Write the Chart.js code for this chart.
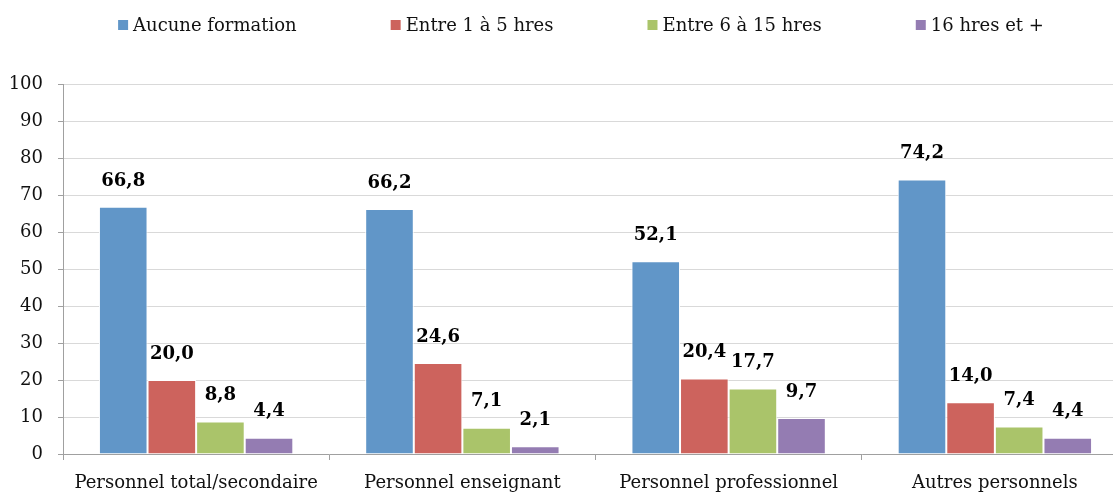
<!DOCTYPE html>
<html>
<head>
<meta charset="utf-8">
<script src="https://cdn.jsdelivr.net/npm/chart.js@4"></script>
<style>
html,body{margin:0;padding:0;background:#fff;overflow:hidden;}
#wrap{width:1160px;height:492px;position:relative;}
</style>
</head>
<body>
<div id="wrap"><canvas id="c"></canvas></div>
<script>
const categories = ["Personnel total/secondaire", "Personnel enseignant", "Personnel professionnel", "Autres personnels"];
const seriesNames = ["Aucune formation", "Entre 1 à 5 hres", "Entre 6 à 15 hres", "16 hres et +"];
const aucune = [66.8, 66.2, 52.1, 74.2];
const entre1a5 = [20.0, 24.6, 20.4, 14.0];
const entre6a15 = [8.8, 7.1, 17.7, 7.4];
const seize = [4.4, 2.1, 9.7, 4.4];
const yTicks = [0, 10, 20, 30, 40, 50, 60, 70, 80, 90, 100];

const colors = ["#6196C8", "#CD635D", "#AAC46A", "#947CB2"];
const FONT = "'DejaVu Serif', serif";

const legendPlugin = {
  id: 'customLegend',
  afterDraw(chart) {
    const ctx = chart.ctx;
    ctx.save();
    ctx.font = "18px " + FONT;
    ctx.textBaseline = 'middle';
    const box = 10, gapBT = 5, gap = 94, cy = 26;
    const items = chart.data.datasets.map(d => ({ label: d.label, color: d.backgroundColor, w: ctx.measureText(d.label).width }));
    const total = items.reduce((s, it) => s + box + gapBT + it.w, 0) + gap * (items.length - 1);
    let x = 581 - total / 2;
    items.forEach(it => {
      ctx.fillStyle = it.color;
      ctx.fillRect(x, cy - 6, box, box);
      ctx.fillStyle = '#111';
      ctx.textAlign = 'left';
      ctx.fillText(it.label, x + box + gapBT, cy);
      x += box + gapBT + it.w + gap;
    });
    ctx.restore();
  }
};

const labelPlugin = {
  id: 'valueLabels',
  afterDatasetsDraw(chart) {
    const ctx = chart.ctx;
    ctx.save();
    ctx.font = "bold 18px " + FONT;
    ctx.fillStyle = '#000';
    ctx.textAlign = 'center';
    ctx.textBaseline = 'middle';
    chart.data.datasets.forEach((ds, i) => {
      const meta = chart.getDatasetMeta(i);
      meta.data.forEach((bar, j) => {
        const v = ds.data[j];
        ctx.fillText(v.toFixed(1).replace('.', ','), bar.x, bar.y - 26);
      });
    });
    ctx.restore();
  }
};

const mk = (label, data, color) => ({
  label, data, backgroundColor: color, borderColor: '#ffffff', borderWidth: 1,
  borderSkipped: 'bottom', categoryPercentage: 0.73, barPercentage: 1.0
});

new Chart(document.getElementById('c'), {
  type: 'bar',
  data: {
    labels: categories,
    datasets: [
      mk(seriesNames[0], aucune, colors[0]),
      mk(seriesNames[1], entre1a5, colors[1]),
      mk(seriesNames[2], entre6a15, colors[2]),
      mk(seriesNames[3], seize, colors[3])
    ]
  },
  options: {
    responsive: true,
    maintainAspectRatio: false,
    animation: false,
    layout: { padding: { top: 84, right: 32, left: 0, bottom: 0 } },
    plugins: { legend: { display: false }, tooltip: { enabled: false } },
    scales: {
      x: {
        grid: { drawOnChartArea: false, offset: true, tickLength: 6, color: '#A0A0A0', lineWidth: 1 },
        border: { color: '#A0A0A0', width: 1 },
        ticks: { color: '#111', font: { family: FONT, size: 18 }, padding: 13, maxRotation: 0, autoSkip: false },
        afterFit(s) { s.height = 38; }
      },
      y: {
        min: 0, max: 100,
        afterBuildTicks(s) { s.ticks = yTicks.map(v => ({ value: v })); },
        grid: { color: '#D9D9D9', lineWidth: 1, tickLength: 5, tickColor: '#A0A0A0' },
        border: { color: '#A0A0A0', width: 1 },
        ticks: { color: '#111', font: { family: FONT, size: 18 }, padding: 15 },
        afterFit(s) { s.width = 63; }
      }
    }
  },
  plugins: [legendPlugin, labelPlugin]
});
</script>
</body>
</html>
